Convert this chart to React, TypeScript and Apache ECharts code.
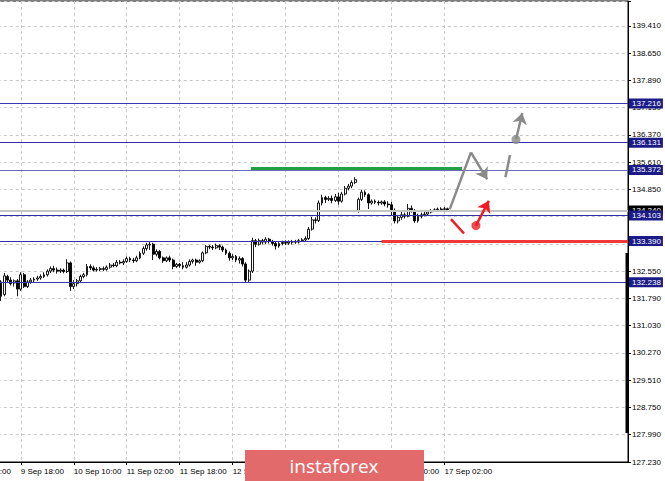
import React, { useEffect, useRef } from "react";
import * as echarts from "echarts";

// ---- data ----
const candleStart = -6; // bar index of first candle (hourly bars, 0 = 9 Sep 18:00)
// [open, close, low, high]
const candles: [number, number, number, number][] = [
  [132.25, 131.85, 131.72, 132.3], [131.9, 132.42, 131.85, 132.5], [132.4, 132.3, 132.22, 132.45],
  [132.3, 132.2, 132.15, 132.38], [132.22, 132.28, 132.12, 132.32], [132.28, 132.05, 131.85, 132.33],
  [132.05, 132.45, 132.0, 132.52], [132.45, 132.12, 132.08, 132.5], [132.12, 132.25, 132.08, 132.3],
  [132.25, 132.3, 132.2, 132.36], [132.3, 132.33, 132.24, 132.38], [132.33, 132.36, 132.28, 132.42],
  [132.36, 132.4, 132.31, 132.46], [132.4, 132.45, 132.36, 132.52], [132.45, 132.55, 132.4, 132.6],
  [132.55, 132.62, 132.5, 132.68], [132.62, 132.58, 132.52, 132.7], [132.58, 132.55, 132.48, 132.65],
  [132.55, 132.58, 132.5, 132.63], [132.58, 132.54, 132.49, 132.62], [132.54, 132.78, 132.5, 132.88],
  [132.78, 132.12, 132.0, 132.82], [132.12, 132.2, 132.05, 132.3], [132.2, 132.28, 132.12, 132.33],
  [132.28, 132.4, 132.22, 132.45], [132.4, 132.45, 132.35, 132.5], [132.45, 132.68, 132.4, 132.75],
  [132.68, 132.64, 132.58, 132.74], [132.64, 132.58, 132.54, 132.7], [132.58, 132.6, 132.54, 132.66],
  [132.6, 132.62, 132.55, 132.67], [132.62, 132.6, 132.55, 132.68], [132.6, 132.66, 132.56, 132.71],
  [132.66, 132.72, 132.62, 132.78], [132.72, 132.7, 132.66, 132.78], [132.7, 132.8, 132.66, 132.86],
  [132.8, 132.78, 132.74, 132.86], [132.78, 132.82, 132.72, 132.88], [132.82, 132.9, 132.78, 132.96],
  [132.9, 132.86, 132.8, 132.95], [132.86, 132.84, 132.78, 132.92], [132.84, 132.92, 132.8, 132.98],
  [132.92, 133.05, 132.88, 133.1], [133.05, 133.18, 133.0, 133.24], [133.18, 133.28, 133.12, 133.34],
  [133.28, 133.3, 133.14, 133.36], [133.3, 133.02, 132.86, 133.34], [133.02, 133.1, 132.96, 133.16],
  [133.1, 132.92, 132.88, 133.14], [132.92, 132.84, 132.78, 132.96], [132.84, 132.92, 132.8, 132.96],
  [132.92, 132.86, 132.8, 132.98], [132.86, 132.68, 132.6, 132.9], [132.68, 132.74, 132.64, 132.78],
  [132.74, 132.7, 132.65, 132.78], [132.7, 132.66, 132.6, 132.8], [132.66, 132.72, 132.62, 132.8],
  [132.72, 132.82, 132.68, 132.88], [132.82, 132.86, 132.76, 132.9], [132.86, 132.8, 132.7, 132.9],
  [132.8, 132.84, 132.76, 132.88], [132.84, 133.06, 132.8, 133.1], [133.06, 133.24, 133.02, 133.28],
  [133.24, 133.22, 133.16, 133.28], [133.22, 133.2, 133.14, 133.28], [133.2, 133.26, 133.16, 133.32],
  [133.26, 133.22, 133.14, 133.3], [133.22, 133.14, 133.08, 133.26], [133.14, 133.05, 133.0, 133.18],
  [133.05, 132.92, 132.84, 133.1], [132.92, 132.96, 132.86, 133.02], [132.96, 132.86, 132.8, 133.0],
  [132.86, 132.9, 132.76, 132.96], [132.9, 132.75, 132.68, 132.94], [132.75, 132.3, 132.25, 132.8],
  [132.3, 132.55, 132.25, 132.6], [132.55, 133.4, 132.5, 133.48], [133.4, 133.3, 133.22, 133.45],
  [133.3, 133.4, 133.26, 133.46], [133.4, 133.36, 133.3, 133.45], [133.36, 133.44, 133.3, 133.5],
  [133.44, 133.38, 133.32, 133.48], [133.38, 133.32, 133.26, 133.42], [133.32, 133.25, 133.15, 133.38],
  [133.25, 133.32, 133.2, 133.36], [133.32, 133.35, 133.27, 133.4], [133.35, 133.33, 133.28, 133.41],
  [133.33, 133.36, 133.28, 133.41], [133.36, 133.37, 133.29, 133.42], [133.37, 133.36, 133.31, 133.42],
  [133.36, 133.4, 133.32, 133.45], [133.4, 133.42, 133.36, 133.47], [133.42, 133.46, 133.38, 133.52],
  [133.46, 133.72, 133.42, 133.78], [133.72, 133.98, 133.68, 134.06], [133.98, 133.96, 133.88, 134.05],
  [133.96, 134.45, 133.92, 134.52], [134.45, 134.6, 134.38, 134.68], [134.6, 134.55, 134.45, 134.65],
  [134.55, 134.58, 134.5, 134.64], [134.58, 134.52, 134.44, 134.66], [134.52, 134.62, 134.48, 134.7],
  [134.62, 134.5, 134.4, 134.74], [134.5, 134.7, 134.46, 134.76], [134.7, 134.86, 134.66, 134.92],
  [134.86, 134.92, 134.8, 134.98], [134.92, 135.02, 134.86, 135.08], [135.02, 135.1, 134.98, 135.17],
  [134.22, 134.55, 134.18, 134.6], [134.55, 134.75, 134.5, 134.82], [134.75, 134.68, 134.62, 134.8],
  [134.68, 134.45, 134.28, 134.72], [134.45, 134.5, 134.4, 134.55], [134.5, 134.47, 134.42, 134.55],
  [134.47, 134.45, 134.38, 134.52], [134.45, 134.48, 134.4, 134.52], [134.48, 134.42, 134.36, 134.53],
  [134.42, 134.4, 134.32, 134.5], [134.4, 134.22, 134.1, 134.48], [134.22, 133.95, 133.88, 134.3],
  [133.95, 134.05, 133.88, 134.1], [134.05, 134.12, 133.98, 134.2], [134.12, 134.08, 134.02, 134.18],
  [134.08, 134.3, 134.05, 134.42], [134.3, 134.22, 134.18, 134.38], [134.22, 133.95, 133.9, 134.28],
  [133.95, 134.08, 133.9, 134.15], [134.08, 134.12, 134.02, 134.18], [134.12, 134.14, 134.08, 134.2],
  [134.14, 134.2, 134.1, 134.25], [134.2, 134.24, 134.16, 134.28], [134.24, 134.26, 134.2, 134.3],
  [134.26, 134.28, 134.22, 134.32], [134.28, 134.27, 134.22, 134.33], [134.27, 134.29, 134.23, 134.34],
  [134.29, 134.24, 134.2, 134.32],
];

const timeTickIdx = [-16, 0, 16, 32, 48, 64, 80, 96, 112, 128];
const timeTickLabels = [
  "9 Sep 02:00", "9 Sep 18:00", "10 Sep 10:00", "11 Sep 02:00", "11 Sep 18:00",
  "12 Sep 10:00", "13 Sep 02:00", "13 Sep 18:00", "16 Sep 10:00", "17 Sep 02:00",
];

const priceMin = 127.23;
const priceStep = 0.76;
const priceTickLabels = [
  "127.230", "127.990", "128.750", "129.510", "130.270", "131.030", "131.790", "132.550",
  "133.330", "134.090", "134.850", "135.610", "136.370", "137.130", "137.890", "138.650", "139.410",
];

const levelValues = [137.216, 136.131, 135.372, 134.103, 133.39, 132.238];
const levelLabels = ["137.216", "136.131", "135.372", "134.103", "133.390", "132.238"];
const levelColors = ["#3838b0", "#3030a8", "#6a6abd", "#3030a8", "#3030a8", "#3838b0"];

const redLevel = { value: 133.39, from: 109, to: 183.44 };
const greenLevel = { value: 135.42, from: 69.5, to: 133.3 };

// forecast arrows (bar index, price)
const grayRise: [number, number][] = [[129.6, 134.28], [136.0, 135.86]];
const grayDrop: [number, number][] = [[136.0, 135.86], [140.9, 135.11]];
const grayDash: [number, number][] = [[146.4, 135.17], [147.8, 135.79]];
const grayDot: [number, number] = [149.6, 136.22];
const grayUp: [number, number][] = [[149.6, 136.22], [151.5, 136.96]];
const redDash: [number, number][] = [[129.96, 134.0], [133.9, 133.6]];
const redDot: [number, number] = [137.5, 133.82];
const redUp: [number, number][] = [[137.5, 133.82], [141.4, 134.51]];

const FONT = "Liberation Sans";

export default function App() {
  const ref = useRef<HTMLDivElement>(null);
  useEffect(() => {
    const chart = echarts.init(ref.current!, null, { renderer: "svg" });
    const candleData = candles.map((c, k) => [candleStart + k, c[0], c[1], c[2], c[3]]);
    const lastClose = candles[candles.length - 1][1];
    const option: any = {
      animation: false,
      backgroundColor: "#fff",
      grid: {
        left: -32.16, right: 37, top: 1, bottom: 19,
        containLabel: false, outerBoundsMode: "none",
        show: true, borderColor: "#000", borderWidth: 1, backgroundColor: "transparent",
      },
      xAxis: {
        type: "value", min: -16, max: 183.44, interval: 8,
        axisLine: { show: true, onZero: false, lineStyle: { color: "#000", width: 1 } },
        axisTick: { show: true, customValues: timeTickIdx, length: 3, lineStyle: { color: "#000" } },
        axisLabel: {
          customValues: timeTickIdx,
          formatter: (v: number) => {
            const k = timeTickIdx.indexOf(Math.round(v));
            return k >= 0 ? timeTickLabels[k] : "";
          },
          align: "left", margin: 5, fontSize: 8, fontFamily: FONT, color: "#000",
        },
        splitLine: { show: true, lineStyle: { color: "#c8c8c8", type: [3, 3], width: 1 } },
      },
      yAxis: {
        type: "value", position: "right", min: priceMin, max: 140.08, interval: priceStep,
        axisLine: { show: true, onZero: false, lineStyle: { color: "#000", width: 1 } },
        axisTick: { show: true, length: 3, lineStyle: { color: "#000" } },
        axisLabel: {
          margin: 4, fontSize: 8, fontFamily: FONT, color: "#000",
          formatter: (v: number) => {
            const k = Math.round((v - priceMin) / priceStep);
            if (Math.abs(v - (priceMin + k * priceStep)) > 0.01) return "";
            return priceTickLabels[k] ?? "";
          },
        },
        splitLine: { show: true, lineStyle: { color: "#c8c8c8", type: [3, 3], width: 1 } },
      },
      series: [
        {
          type: "line", data: [], z: 2, silent: true,
          markLine: {
            silent: true, symbol: ["none", "none"],
            lineStyle: { color: "#c4c4c4", width: 2, type: "solid" },
            label: {
              show: true, position: "end", distance: 1, color: "#fff", backgroundColor: "#000",
              padding: [1, 2, 1, 3], fontSize: 8, fontFamily: FONT,
              formatter: lastClose.toFixed(3),
            },
            data: [{ yAxis: lastClose }],
          },
        },
        {
          type: "line", data: [], z: 3, silent: true,
          markLine: {
            silent: true, symbol: ["none", "none"],
            label: {
              show: true, position: "end", distance: 1, color: "#fff", backgroundColor: "#1b1b88",
              padding: [1, 2, 1, 3], fontSize: 8, fontFamily: FONT,
            },
            data: levelValues.map((v, k) => ({
              yAxis: v,
              lineStyle: { color: levelColors[k], width: 1, type: "solid" },
              label: { formatter: levelLabels[k] },
            })),
          },
        },
        {
          type: "candlestick", data: candleData, barWidth: 2.4, z: 4, silent: true,
          itemStyle: { color: "#fff", color0: "#000", borderColor: "#000", borderColor0: "#000", borderWidth: 0.9 },
        },
        {
          type: "line", data: [], z: 5, silent: true,
          markLine: {
            silent: true, symbol: ["none", "none"], label: { show: false },
            data: [
              [
                { coord: [redLevel.from, redLevel.value], lineStyle: { color: "#f03838", width: 3, type: "solid" } },
                { coord: [redLevel.to, redLevel.value] },
              ],
              [
                { coord: [greenLevel.from, greenLevel.value], lineStyle: { color: "#22a046", width: 3, type: "solid" } },
                { coord: [greenLevel.to, greenLevel.value] },
              ],
            ],
          },
        },
        {
          type: "lines", coordinateSystem: "cartesian2d", z: 6, silent: true,
          symbol: ["none", "none"],
          lineStyle: { color: "#8a8a8a", width: 2.5, opacity: 1, curveness: 0 },
          data: [{ coords: grayRise }, { coords: grayDash }],
        },
        {
          type: "lines", coordinateSystem: "cartesian2d", z: 6, silent: true,
          symbol: ["none", "arrow"], symbolSize: 11,
          lineStyle: { color: "#8a8a8a", width: 2.5, opacity: 1, curveness: 0 },
          data: [{ coords: grayDrop }, { coords: grayUp }],
        },
        {
          type: "lines", coordinateSystem: "cartesian2d", z: 6, silent: true,
          symbol: ["none", "none"],
          lineStyle: { color: "#ee1c24", width: 2.5, opacity: 1, curveness: 0 },
          data: [{ coords: redDash }],
        },
        {
          type: "lines", coordinateSystem: "cartesian2d", z: 6, silent: true,
          symbol: ["none", "arrow"], symbolSize: 11,
          lineStyle: { color: "#ee1c24", width: 2.5, opacity: 1, curveness: 0 },
          data: [{ coords: redUp }],
        },
        {
          type: "scatter", z: 7, silent: true, symbolSize: 9,
          data: [
            { value: grayDot, itemStyle: { color: "#8a8a8a" } },
            { value: redDot, itemStyle: { color: "#ee1c24" } },
          ],
        },
      ],
      graphic: [
        { type: "rect", z: 50, shape: { x: 625.5, y: 253, width: 2.5, height: 180 }, style: { fill: "#000" } },
        { type: "rect", z: 100, shape: { x: 245, y: 450, width: 179, height: 31 }, style: { fill: "#e36a6b" } },
        {
          type: "text", z: 101, x: 334, y: 466,
          style: {
            text: "instaforex", fill: "#fff", fontSize: 19, fontFamily: "Open Sans",
            align: "center", verticalAlign: "middle",
          },
        },
      ],
    };
    chart.setOption(option);
    return () => chart.dispose();
  }, []);
  return (
    <div
      ref={ref}
      style={{ position: "fixed", left: 0, top: 0, width: 665, height: 481, background: "#fff" }}
    />
  );
}
